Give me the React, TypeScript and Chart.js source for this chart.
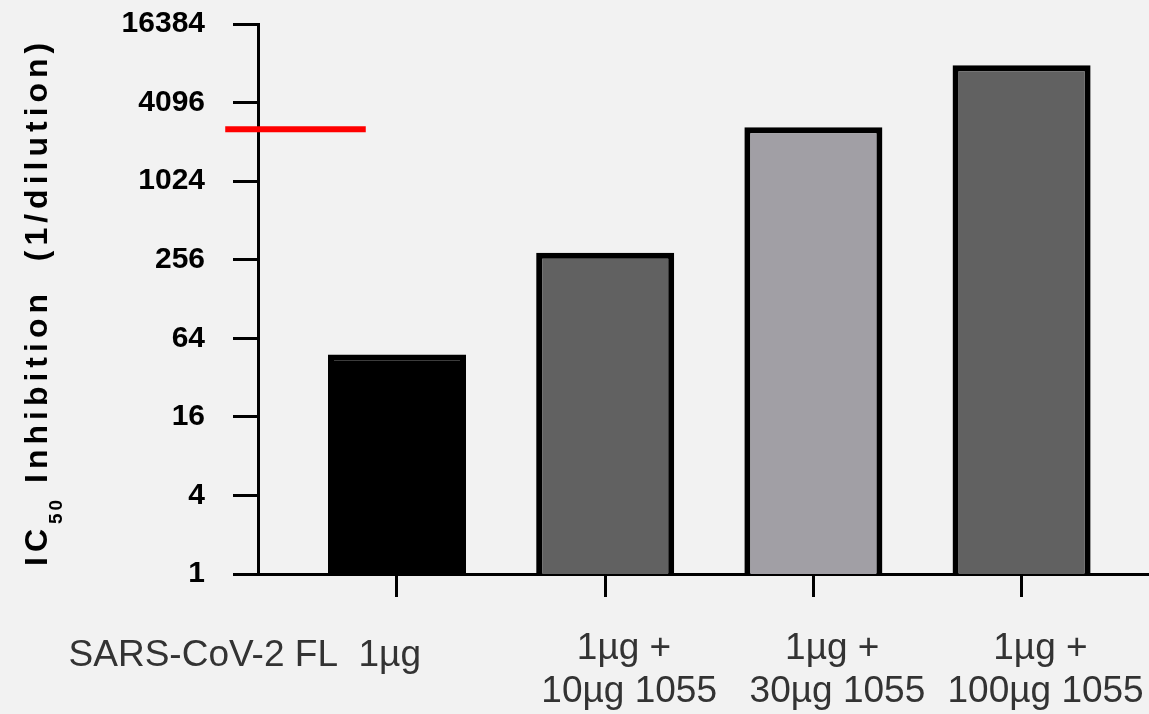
import React, { useEffect, useRef } from "react";
import { Chart, registerables } from "chart.js";

Chart.register(...registerables);

// ---- data ----
const CATEGORY_LABELS: string[][] = [
  ["SARS-CoV-2 FL  1µg"],
  ["1µg + ", "10µg 1055"],
  ["1µg + ", "30µg 1055"],
  ["1µg + ", "100µg 1055"],
];
const CATEGORY_POSITIONS = [1, 2, 3, 4];
const IC50_VALUES = [48, 290, 2650, 7900];
const BAR_COLORS = ["#000000", "#616161", "#A19FA5", "#616161"];
const Y_TICKS = [1, 4, 16, 64, 256, 1024, 4096, 16384];
const REFERENCE_VALUE = 2560;
const REFERENCE_SPAN = [0.175, 0.85];

const FONT = '"Liberation Sans", Arial, Helvetica, sans-serif';

const backgroundPlugin = {
  id: "bg",
  beforeDraw(chart: any) {
    const { ctx, width, height } = chart;
    ctx.save();
    ctx.fillStyle = "#F2F2F2";
    ctx.fillRect(0, 0, width, height);
    ctx.restore();
  },
};

const referenceLinePlugin = {
  id: "refLine",
  afterDatasetsDraw(chart: any) {
    const { ctx, scales } = chart;
    const y = scales.y.getPixelForValue(REFERENCE_VALUE);
    const x0 = scales.x.getPixelForValue(REFERENCE_SPAN[0]);
    const x1 = scales.x.getPixelForValue(REFERENCE_SPAN[1]);
    ctx.save();
    ctx.strokeStyle = "#FF0000";
    ctx.lineWidth = 6;
    ctx.beginPath();
    ctx.moveTo(x0, y);
    ctx.lineTo(x1, y);
    ctx.stroke();
    ctx.restore();
  },
};

function drawSpaced(ctx: CanvasRenderingContext2D, text: string, x: number, y: number, spacing: number) {
  let cx = x;
  for (const ch of text) {
    ctx.fillText(ch, cx, y);
    cx += ctx.measureText(ch).width + spacing;
  }
  return cx;
}

const labelsPlugin = {
  id: "labels",
  afterDraw(chart: any) {
    const { ctx, scales, chartArea } = chart;
    const xs = scales.x;
    ctx.save();
    // x category labels
    ctx.font = `37px ${FONT}`;
    ctx.fillStyle = "#333333";
    ctx.textBaseline = "alphabetic";
    CATEGORY_LABELS.forEach((lines, i) => {
      const px = xs.getPixelForValue(CATEGORY_POSITIONS[i]) + 24;
      if (lines.length === 1) {
        ctx.textAlign = "right";
        ctx.fillText(lines[0], px, chartArea.bottom + 92);
      } else {
        ctx.textAlign = "center";
        lines.forEach((l, j) => ctx.fillText(l, px, chartArea.bottom + 85 + 43 * j));
      }
    });

    // y axis title
    ctx.translate(47, 566);
    ctx.rotate(-Math.PI / 2);
    ctx.textAlign = "left";
    ctx.fillStyle = "#000000";
    const sp = 5;
    ctx.font = `bold 32px ${FONT}`;
    let x = drawSpaced(ctx, "IC", 0, 0, sp);
    ctx.font = `bold 19px ${FONT}`;
    x = drawSpaced(ctx, "50", x, 15, 3);
    ctx.font = `bold 32px ${FONT}`;
    drawSpaced(ctx, " Inhibition  (1/dilution)", x, 0, sp);
    ctx.restore();
  },
};

export default function App() {
  const ref = useRef<HTMLCanvasElement>(null);
  useEffect(() => {
    document.body.style.margin = "0";
    document.body.style.background = "#F2F2F2";
    const chart = new Chart(ref.current as HTMLCanvasElement, {
      type: "bar",
      data: {
        datasets: [
          {
            data: CATEGORY_POSITIONS.map((p, i) => ({ x: p, y: IC50_VALUES[i] })),
            backgroundColor: BAR_COLORS,
            borderColor: "#000000",
            borderWidth: 6,
            borderSkipped: "start",
            barPercentage: 0.663,
            categoryPercentage: 1,
          } as any,
        ],
      },
      options: {
        animation: false,
        responsive: false,
        layout: { padding: { top: 24, right: 0, bottom: 0, left: 0 } },
        plugins: { legend: { display: false }, tooltip: { enabled: false } },
        scales: {
          x: {
            type: "linear",
            min: 0.3324,
            max: 4.612,
            offset: false,
            z: 1,
            afterBuildTicks: (s: any) => {
              s.ticks = CATEGORY_POSITIONS.map((v) => ({ value: v }));
            },
            afterFit: (s: any) => {
              s.height = 140;
              s.paddingLeft = 0;
              s.paddingRight = 0;
            },
            grid: {
              offset: false,
              drawOnChartArea: false,
              drawTicks: true,
              tickLength: 23,
              lineWidth: 3,
              color: "#000000",
            },
            border: { display: true, width: 3, color: "#000000" },
            ticks: { display: false },
          },
          y: {
            type: "logarithmic",
            min: 1,
            max: 16384,
            z: 1,
            afterBuildTicks: (s: any) => {
              s.ticks = Y_TICKS.map((v) => ({ value: v }));
            },
            afterFit: (s: any) => {
              s.width = 258;
              s.paddingTop = 0;
              s.paddingBottom = 0;
            },
            grid: {
              drawOnChartArea: false,
              drawTicks: true,
              tickLength: 25,
              lineWidth: 3,
              color: "#000000",
            },
            border: { display: true, width: 3, color: "#000000" },
            ticks: {
              padding: 28,
              color: "#000000",
              font: { family: FONT, size: 30, weight: "bold" },
              callback: (v: any) => String(v),
              autoSkip: false,
            },
          },
        },
      } as any,
      plugins: [backgroundPlugin, referenceLinePlugin, labelsPlugin],
    });
    return () => chart.destroy();
  }, []);
  return (
    <div style={{ width: 1149, height: 714 }}>
      <canvas ref={ref} width={1149} height={714} style={{ display: "block" }} />
    </div>
  );
}
